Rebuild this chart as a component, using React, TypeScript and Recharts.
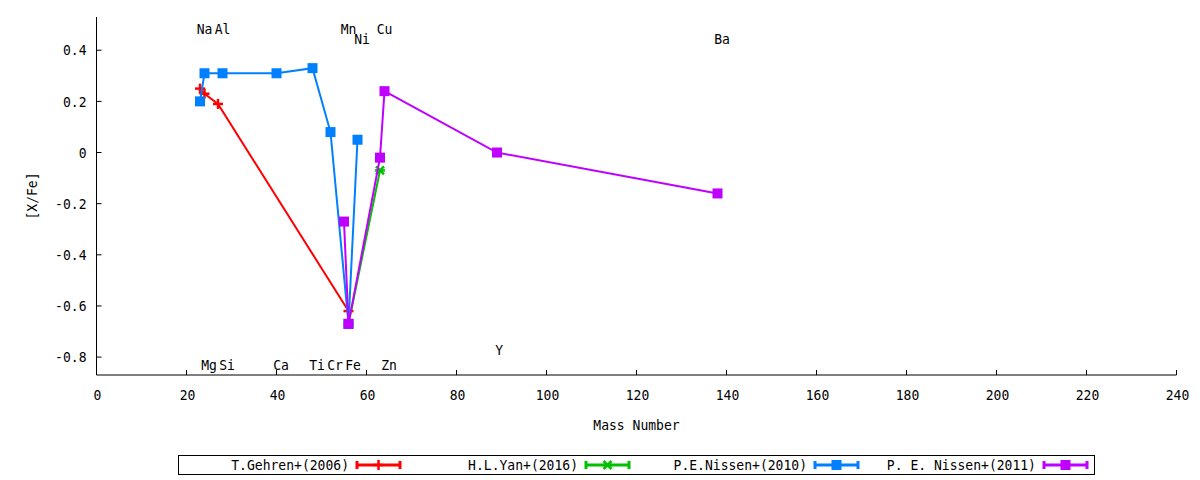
import { ScatterChart, Scatter, XAxis, YAxis } from 'recharts'

// mass numbers and [X/Fe] values per study
const gehrenMass = [23, 24, 27, 56]
const gehrenVal = [0.25, 0.23, 0.19, -0.62]

const yanMass = [56, 63]
const yanVal = [-0.67, -0.07]

const nissen10Mass = [23, 24, 28, 40, 48, 52, 56, 58]
const nissen10Val = [0.2, 0.31, 0.31, 0.31, 0.33, 0.08, -0.67, 0.05]

const nissen11Mass = [55, 56, 63, 64, 89, 138]
const nissen11Val = [-0.27, -0.67, -0.02, 0.24, 0, -0.16]

// element tags placed on the plot
const elemNames = ['Na', 'Al', 'Mn', 'Ni', 'Cu', 'Ba', 'Mg', 'Si', 'Ca', 'Ti', 'Cr', 'Fe', 'Zn', 'Y']
const elemX = [24, 28, 56, 59, 64, 139, 25, 29, 41, 49, 53, 57, 65, 89.5]
const elemY = [0.484, 0.484, 0.484, 0.445, 0.484, 0.445, -0.828, -0.828, -0.828, -0.828, -0.828, -0.828, -0.828, -0.773]

const xTicks = [0, 20, 40, 60, 80, 100, 120, 140, 160, 180, 200, 220, 240]
const yTicks = [-0.8, -0.6, -0.4, -0.2, 0, 0.2, 0.4]

const legendNames = ['T.Gehren+(2006)', 'H.L.Yan+(2016)', 'P.E.Nissen+(2010)', 'P. E. Nissen+(2011)']
const legendColors = ['#ff0000', '#00c000', '#0080ff', '#c000ff']
const legendMarks = ['plus', 'cross', 'square', 'square']

const FONT = '"DejaVu Sans Mono", monospace'

const toPoints = (xs: number[], ys: number[]) => xs.map((x, i) => ({ x, y: ys[i] }))
const elemPoints = elemNames.map((name, i) => ({ x: elemX[i], y: elemY[i], name }))

// gnuplot's font is a narrow mono, so squeeze DejaVu Sans Mono a bit
const T = ({ x, y, anchor = 'middle', children }: { x: number; y: number; anchor?: string; children: any }) => (
  <text
    x={x}
    y={y}
    textAnchor={anchor as any}
    dominantBaseline="central"
    fontSize={14.5}
    fontFamily={FONT}
    fill="#000"
    transform={`matrix(0.9,0,0,1,${x * 0.1},0)`}
  >
    {children}
  </text>
)

const Marker = ({ kind, cx, cy, color }: { kind: string; cx: number; cy: number; color: string }) => {
  if (kind === 'square') return <rect x={cx - 5} y={cy - 5} width={10} height={10} fill={color} />
  if (kind === 'plus')
    return (
      <g stroke={color} strokeWidth={2.5}>
        <line x1={cx - 5} y1={cy} x2={cx + 5} y2={cy} />
        <line x1={cx} y1={cy - 5} x2={cx} y2={cy + 5} />
      </g>
    )
  return (
    <g stroke={color} strokeWidth={2.5}>
      <line x1={cx - 4} y1={cy - 4} x2={cx + 4} y2={cy + 4} />
      <line x1={cx - 4} y1={cy + 4} x2={cx + 4} y2={cy - 4} />
      <line x1={cx - 5} y1={cy} x2={cx + 5} y2={cy} />
    </g>
  )
}

const BottomTick = ({ x, y, payload }: any) => (
  <g>
    <line x1={x} y1={y} x2={x} y2={y - 5} stroke="#000" />
    <T x={x + 1} y={y + 20}>{payload.value}</T>
  </g>
)
const TopTick = ({ x, y }: any) => <line x1={x} y1={y} x2={x} y2={y + 5} stroke="#000" />
const LeftTick = ({ x, y, payload }: any) => (
  <g>
    <line x1={x} y1={y} x2={x + 5} y2={y} stroke="#000" />
    <T x={x - 10} y={y} anchor="end">{payload.value}</T>
  </g>
)
const RightTick = ({ x, y }: any) => <line x1={x} y1={y} x2={x - 5} y2={y} stroke="#000" />

const series = [
  { data: toPoints(gehrenMass, gehrenVal), i: 0 },
  { data: toPoints(yanMass, yanVal), i: 1 },
  { data: toPoints(nissen10Mass, nissen10Val), i: 2 },
  { data: toPoints(nissen11Mass, nissen11Val), i: 3 },
]

const legendTextEnd = [349, 578, 807, 1036]

export default function App() {
  return (
    <div style={{ position: 'absolute', left: 0, top: 0, width: 1200, height: 480, background: '#fff' }}>
      <ScatterChart width={1200} height={480} margin={{ top: 17, right: 23.5, left: 36.5, bottom: 75 }}>
        <XAxis
          xAxisId="b"
          dataKey="x"
          type="number"
          domain={[0, 240]}
          ticks={xTicks}
          height={30}
          tickSize={0}
          tickMargin={0}
          tick={<BottomTick />}
          axisLine={{ stroke: '#000' }}
          label={{
            content: ({ viewBox }: any) => (
              <T x={viewBox.x + viewBox.width / 2} y={425}>Mass Number</T>
            ),
          }}
        />
        <XAxis
          xAxisId="t"
          orientation="top"
          type="number"
          domain={[0, 240]}
          ticks={xTicks}
          height={0}
          tickSize={0}
          tickMargin={0}
          tick={<TopTick />}
          axisLine={{ stroke: '#000' }}
        />
        <YAxis
          yAxisId="l"
          dataKey="y"
          type="number"
          domain={[-0.87, 0.53]}
          ticks={yTicks}
          width={60}
          tickSize={0}
          tickMargin={0}
          tick={<LeftTick />}
          axisLine={{ stroke: '#000' }}
          label={{
            content: ({ viewBox }: any) => {
              const cy = viewBox.y + viewBox.height / 2
              return (
                <g transform={`rotate(-90, 32, ${cy})`}>
                  <T x={32} y={cy}>[X/Fe]</T>
                </g>
              )
            },
          }}
        />
        <YAxis
          yAxisId="r"
          orientation="right"
          type="number"
          domain={[-0.87, 0.53]}
          ticks={yTicks}
          width={0}
          tickSize={0}
          tickMargin={0}
          tick={<RightTick />}
          axisLine={{ stroke: '#000' }}
        />
        <Scatter
          xAxisId="b"
          yAxisId="l"
          data={elemPoints}
          isAnimationActive={false}
          legendType="none"
          shape={(p: any) => <T x={p.cx} y={p.cy}>{p.payload.name}</T>}
        />
        {series.map((s) => (
          <Scatter
            key={s.i}
            xAxisId="b"
            yAxisId="l"
            data={s.data}
            isAnimationActive={false}
            line={{ stroke: legendColors[s.i], strokeWidth: 2 }}
            lineType="joint"
            shape={(p: any) => <Marker kind={legendMarks[s.i]} cx={p.cx} cy={p.cy} color={legendColors[s.i]} />}
          />
        ))}
      </ScatterChart>
      <svg width={1200} height={480} style={{ position: 'absolute', left: 0, top: 0, pointerEvents: 'none' }}>
        <rect x={178.5} y={455.5} width={916} height={19} fill="none" stroke="#000" />
        {legendNames.map((name, i) => {
          const end = legendTextEnd[i]
          const x1 = end + 8
          const x2 = end + 51
          const cy = 465
          return (
            <g key={name}>
              <T x={end} y={cy} anchor="end">{name}</T>
              <g stroke={legendColors[i]} strokeWidth={3}>
                <line x1={x1} y1={cy} x2={x2} y2={cy} />
                <line x1={x1} y1={cy - 4} x2={x1} y2={cy + 4} />
                <line x1={x2} y1={cy - 4} x2={x2} y2={cy + 4} />
              </g>
              <Marker kind={legendMarks[i]} cx={(x1 + x2) / 2} cy={cy} color={legendColors[i]} />
            </g>
          )
        })}
      </svg>
    </div>
  )
}
